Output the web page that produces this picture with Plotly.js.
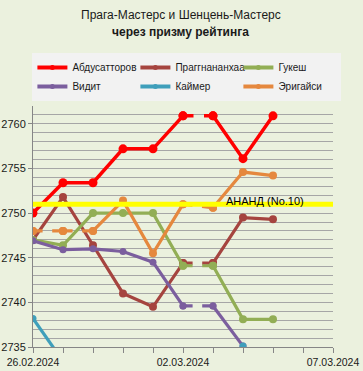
<!DOCTYPE html>
<html>
<head>
<meta charset="utf-8">
<script src="https://cdn.plot.ly/plotly-3.0.1.min.js"></script>
<style>html,body{margin:0;padding:0;background:#EBF1DE;}#chart{width:363px;height:371px;}</style>
</head>
<body>
<div id="chart"></div>
<script>
// ---- data ----
var days = ['2024-02-26','2024-02-27','2024-02-28','2024-02-29','2024-03-01','2024-03-02','2024-03-03','2024-03-04','2024-03-05'];
var abdusattorov   = [2750.0, 2753.4, 2753.4, 2757.2, 2757.2, 2760.9, 2760.9, 2756.1, 2760.9];
var praggnanandhaa = [2747.0, 2751.8, 2746.4, 2741.0, 2739.5, 2744.4, 2744.4, 2749.5, 2749.3];
var gukesh         = [2747.0, 2746.4, 2750.0, 2750.0, 2750.0, 2744.1, 2744.1, 2738.1, 2738.1];
var vidit          = [2746.9, 2745.9, 2746.0, 2745.7, 2744.5, 2739.6, 2739.6, 2735.1, null];
var keymer         = [2738.2, 2733.4, null, null, null, null, null, 2735.1, null];
var erigaisi       = [2748.0, 2748.0, 2748.0, 2751.4, 2745.5, 2751.0, 2750.6, 2754.6, 2754.2];
var anandDays = ['2024-02-26', '2024-03-07'];
var anandRating = [2751, 2751];
var anandLabel = 'АНАНД (No.10)';
var seriesNames = ['Абдусатторов','Праггнананхаа','Гукеш','Видит','Каймер','Эригайси'];
var seriesValues = [abdusattorov, praggnanandhaa, gukesh, vidit, keymer, erigaisi];
var titleLine1 = 'Прага-Мастерс и Шенцень-Мастерс';
var titleLine2 = 'через призму рейтинга';

// ---- styles ----
var colors = ['#FF0000','#A5443F','#92AE55','#7B5E9E','#3F9FBB','#E5883E'];
var widths = [3.5, 3.2, 3.2, 3.2, 3.2, 3.2];
var msizes = [9, 8, 8, 7, 7, 8];
// segments (start index) drawn dashed
var dashedSegs = [[5],[5],[5],[5],[],[0,1,5]];

var traces = [];
seriesValues.forEach(function(vals, s){
  var dset = dashedSegs[s];
  var sx = [], sy = [];
  for (var i = 0; i < vals.length; i++) {
    sx.push(days[i]); sy.push(vals[i]);
    if (dset.indexOf(i) >= 0 && i < vals.length - 1) { sx.push(days[i]); sy.push(null); }
  }
  traces.push({
    x: sx, y: sy, name: seriesNames[s], type: 'scatter', mode: 'lines+markers',
    connectgaps: false, showlegend: false,
    line: {color: colors[s], width: widths[s]},
    marker: {color: colors[s], size: msizes[s]},
    hoverinfo: 'skip'
  });
  dset.forEach(function(i){
    traces.push({
      x: [days[i], days[i+1]], y: [vals[i], vals[i+1]], type: 'scatter', mode: 'lines+markers',
      showlegend: false,
      line: {color: colors[s], width: widths[s], dash: 'dash'},
      marker: {color: colors[s], size: msizes[s]},
      hoverinfo: 'skip'
    });
  });
});
traces.push({
  x: anandDays, y: anandRating, type: 'scatter', mode: 'lines', showlegend: false,
  line: {color: '#FFFF00', width: 5}, hoverinfo: 'skip'
});
// legend entries (small markers as in the reference legend)
seriesNames.forEach(function(n, s){
  traces.push({
    x: [null], y: [null], name: n, type: 'scatter', mode: 'lines+markers', showlegend: true,
    line: {color: colors[s], width: 4}, marker: {color: colors[s], size: 5}, hoverinfo: 'skip'
  });
});

var layout = {
  width: 363, height: 371,
  margin: {l: 33, r: 30, t: 106, b: 24},
  paper_bgcolor: '#EBF1DE', plot_bgcolor: '#EBF1DE',
  font: {family: 'Liberation Sans, Arial, sans-serif', color: '#1a1a1a', size: 11},
  showlegend: true,
  legend: {
    orientation: 'h', x: -0.002, xanchor: 'left', y: 1.22, yanchor: 'top',
    bgcolor: '#F2F2F2', font: {size: 10, color: '#1a1a1a'},
    entrywidth: 58, entrywidthmode: 'pixels', itemwidth: 30, tracegroupgap: 0
  },
  xaxis: {
    type: 'date', range: ['2024-02-26', '2024-03-07'],
    tick0: '2024-02-26', dtick: 5 * 86400000, tickformat: '%d.%m.%Y',
    ticks: 'outside', ticklen: 5, tickcolor: '#868686',
    minor: {dtick: 86400000, ticks: 'outside', ticklen: 5, tickcolor: '#868686', showgrid: false},
    showgrid: false, showline: true, linecolor: '#868686', linewidth: 1,
    tickfont: {size: 10.5}, fixedrange: true
  },
  yaxis: {
    range: [2735, 2762], tick0: 2735, dtick: 5,
    ticks: 'outside', ticklen: 4, tickcolor: '#868686',
    showgrid: true, gridcolor: '#A6A6A6', gridwidth: 1,
    minor: {dtick: 1, showgrid: true, gridcolor: '#A6A6A6', gridwidth: 1},
    showline: true, linecolor: '#868686', linewidth: 1, zeroline: false,
    tickfont: {size: 11}, fixedrange: true
  },
  annotations: [
    {
      x: '2024-03-04 17:36', y: anandRating[0], xref: 'x', yref: 'y',
      text: anandLabel, showarrow: false, yshift: 3,
      font: {size: 11, color: '#000000'}
    },
    {
      x: 0.4933, y: 1.3776, xref: 'paper', yref: 'paper', xanchor: 'center', yanchor: 'middle',
      text: titleLine1, showarrow: false, font: {size: 12, color: '#1a1a1a'}
    },
    {
      x: 0.4933, y: 1.307, xref: 'paper', yref: 'paper', xanchor: 'center', yanchor: 'middle',
      text: '<b>' + titleLine2 + '</b>', showarrow: false, font: {size: 12, color: '#1a1a1a'}
    }
  ]
};

Plotly.newPlot('chart', traces, layout, {staticPlot: true, displayModeBar: false});
</script>
</body>
</html>
